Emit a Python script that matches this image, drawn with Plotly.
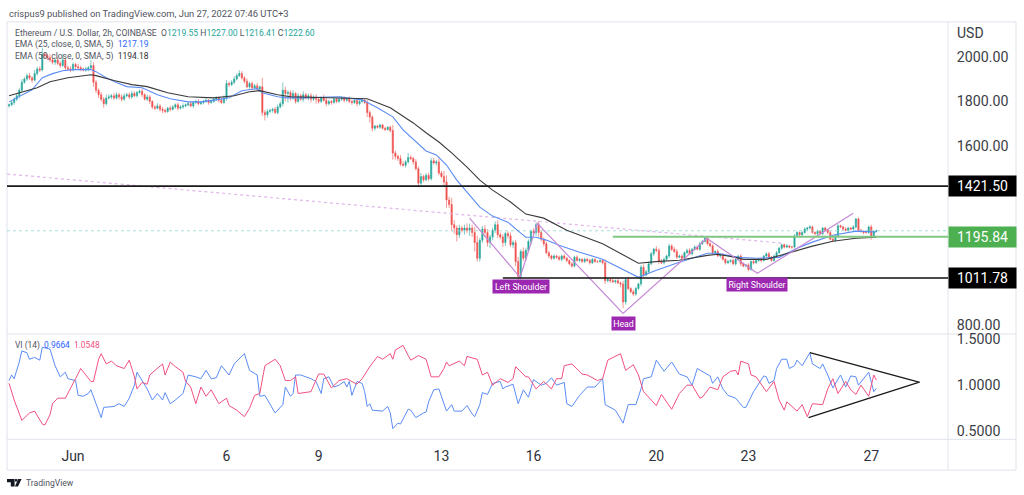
import pandas as pd
import plotly.graph_objects as go

W, H = 1024, 495
START = "2022-05-29 22:00"

first_open = 1780
closes = [
 1785,1795,1810,1825,1850,1885,1900,1915,1905,1895,
 1925,1945,1940,2010,2005,1995,1985,1975,1985,1970,
 1960,1985,1950,1945,1940,1965,1955,1950,1945,1940,
 1945,1950,1960,1885,1850,1830,1810,1790,1815,1820,
 1825,1815,1830,1820,1810,1825,1830,1820,1835,1825,
 1840,1845,1830,1810,1820,1800,1775,1770,1780,1765,
 1760,1755,1770,1765,1775,1785,1770,1775,1780,1785,
 1790,1780,1795,1800,1790,1795,1800,1805,1795,1800,
 1810,1815,1805,1795,1815,1880,1875,1885,1900,1915,
 1925,1905,1890,1865,1880,1860,1870,1855,1865,1750,
 1740,1755,1760,1765,1750,1775,1790,1850,1835,1840,
 1815,1835,1800,1825,1810,1830,1815,1825,1810,1820,
 1810,1800,1815,1805,1790,1800,1795,1810,1800,1810,
 1815,1805,1810,1800,1795,1805,1790,1800,1805,1795,
 1750,1730,1680,1690,1685,1695,1680,1675,1685,1670,
 1570,1555,1545,1520,1515,1530,1550,1545,1530,1500,
 1435,1465,1450,1470,1455,1535,1525,1530,1480,1465,
 1440,1360,1340,1250,1235,1205,1235,1225,1235,1225,
 1235,1215,1170,1100,1180,1230,1215,1170,1195,1225,
 1250,1205,1195,1170,1210,1200,1160,1170,1085,1020,
 1130,1100,1135,1175,1220,1215,1250,1215,1185,1165,
 1125,1110,1100,1110,1105,1095,1110,1100,1090,1075,
 1065,1105,1090,1095,1085,1095,1090,1080,1095,1085,
 1085,1090,1080,1000,1005,1000,995,1000,990,985,
 905,1005,965,950,940,965,985,1060,1025,1040,
 1075,1120,1140,1135,1085,1080,1095,1110,1155,1140,
 1130,1105,1110,1100,1125,1135,1120,1140,1150,1140,
 1165,1175,1190,1165,1155,1125,1130,1110,1115,1095,
 1080,1085,1090,1075,1095,1110,1075,1065,1070,1050,
 1085,1080,1090,1095,1090,1110,1120,1105,1090,1110,
 1125,1145,1160,1150,1155,1150,1150,1200,1215,1205,
 1215,1230,1235,1240,1215,1210,1220,1210,1235,1225,
 1215,1185,1180,1200,1245,1240,1230,1225,1235,1230,
 1240,1275,1225,1220,1215,1215,1240,1195,1219.55,1222.60,
]
upper_wick = [
 6,10,8,12,9,14,8,10,12,8,
 15,9,12,30,10,8,15,10,8,12,
 10,25,8,10,12,10,8,12,10,6,
 10,8,25,15,10,8,12,10,15,12,
 8,12,10,8,12,10,8,10,12,10,
 6,8,12,6,10,8,6,10,12,8,
 10,8,6,10,8,6,10,8,12,6,
 8,10,6,8,10,6,8,12,6,8,
 10,8,6,10,12,15,8,10,12,10,
 14,10,8,12,8,10,8,12,6,40,
 12,10,8,6,10,12,10,35,15,10,
 10,15,8,12,10,15,8,10,12,8,
 12,8,6,15,10,8,6,10,8,12,
 10,8,6,12,8,10,6,8,10,6,
 12,10,8,6,4,6,4,8,4,6,
 25,10,8,15,14,8,20,10,8,12,
 10,15,8,10,12,14,12,10,15,10,
 25,30,15,30,20,12,15,10,15,20,
 20,15,25,30,10,14,18,15,10,12,
 15,20,10,12,8,10,15,10,12,20,
 10,18,12,10,8,14,10,15,12,8,
 10,8,6,8,6,8,6,8,6,5,
 8,6,8,6,5,8,6,8,6,5,
 6,5,4,15,8,6,10,5,8,6,
 15,8,12,6,10,8,6,10,12,8,
 10,8,6,14,10,12,8,6,10,8,
 10,12,6,8,6,8,10,6,8,6,
 8,6,8,6,10,8,6,10,6,8,
 6,8,5,8,6,5,8,6,5,8,
 6,8,5,6,8,5,6,8,5,6,
 8,6,5,6,8,5,6,8,6,5,
 6,8,5,8,6,5,8,6,4,6,
 5,6,8,6,8,5,6,8,6,5,
 8,6,8,6,5,8,6,10,4.40,4.40,
]
lower_wick = [
 8,6,10,8,12,10,6,8,10,12,
 6,10,8,6,12,10,8,10,12,8,
 10,6,12,8,10,6,12,8,10,6,
 8,10,6,20,12,15,10,18,8,6,
 10,8,6,12,10,8,6,10,8,6,
 8,6,10,6,8,12,10,8,6,10,
 12,8,6,10,6,8,10,6,8,6,
 8,6,10,6,8,6,8,6,10,6,
 6,8,10,6,8,12,10,6,8,6,
 6,8,10,6,8,10,6,8,10,15,
 25,12,8,10,6,8,6,12,35,40,
 12,8,10,6,8,12,6,10,15,8,
 20,10,8,6,12,8,10,6,8,6,
 8,10,6,8,10,6,12,8,6,8,
 20,25,15,10,6,8,6,8,6,8,
 30,15,10,8,6,10,8,6,12,8,
 12,8,10,6,10,8,6,12,10,8,
 20,35,15,30,25,30,15,10,20,12,
 25,20,40,15,15,12,20,18,25,15,
 12,15,10,20,15,12,10,15,20,22,
 15,12,10,8,14,12,15,20,10,12,
 8,10,8,6,8,6,8,6,8,6,
 8,6,5,8,6,5,6,8,6,5,
 6,5,8,15,8,10,6,8,5,15,
 28,12,8,6,10,8,6,10,8,6,
 8,6,10,8,12,6,8,6,10,8,
 6,8,5,6,8,6,5,8,6,5,
 8,6,5,8,6,8,6,5,8,6,
 8,6,5,6,8,5,10,6,5,8,
 6,8,5,6,8,5,6,8,6,5,
 6,5,8,6,5,6,8,6,5,8,
 6,5,8,6,5,8,6,5,8,6,
 8,5,6,8,5,6,8,5,6,5,
 6,8,5,6,8,5,6,12,4.00,3.14,
]

ema_idx_fast = [0,9,13,17,21,25,32,34,38,42,46,52,58,63,70,75,81,86,91,97,99,105,109,114,129,138,144,150,154,159,163,167,171,175,180,184,189,195,200,202,206,210,215,223,232,239,246,253,262,273,277,285,292,301,308,314,322,331,339]
ema_fast = [1798,1852,1906,1924,1937,1942,1942,1933,1906,1884,1866,1861,1830,1812,1798,1798,1807,1816,1848,1857,1839,1821,1816,1816,1821,1807,1772,1731,1673,1619,1579,1561,1516,1449,1382,1328,1288,1261,1212,1194,1194,1181,1158,1127,1096,1055,1015,1046,1082,1122,1122,1104,1100,1104,1145,1172,1203,1221,1217.19]
ema_idx_slow = [0,4,11,16,23,32,34,41,48,54,62,70,80,88,94,98,105,110,127,140,149,158,163,168,173,179,184,189,196,202,209,218,232,239,246,254,262,273,277,284,287,296,306,314,322,331,339]
ema_slow = [1825,1839,1861,1888,1906,1919,1915,1893,1875,1866,1839,1821,1816,1825,1843,1848,1830,1821,1816,1812,1772,1704,1660,1619,1570,1507,1449,1404,1351,1297,1279,1225,1165,1122,1078,1086,1091,1113,1118,1104,1095,1095,1127,1154,1176,1189,1194.18]

vi_plus_idx = [0,1,2,4,5,7,8,10,12,13,16,18,20,22,23,26,27,29,31,32,34,36,37,41,43,45,47,49,50,52,54,56,58,60,61,63,65,68,70,73,75,77,79,81,83,86,88,92,94,97,98,100,102,104,107,108,110,111,112,114,118,120,122,123,125,127,
 129,131,132,133,134,136,138,139,140,141,142,146,148,149,150,152,153,156,157,159,162,163,164,166,168,170,171,173,174,177,179,181,182,184,185,187,189,192,193,194,197,199,201,203,205,208,210,212,214,217,218,220,223,226,229,232,233,237,240,242,245,247,248,251,253,256,259,262,
 265,267,269,274,275,277,279,281,284,287,288,291,295,296,297,299,300,302,304,305,307,308,310,313,314,317,318,320,322,325,327,329,331,332,336,338,339]
vi_plus = [1.05,1.11,1.07,1.25,1.37,1.35,1.28,1.30,1.27,1.41,1.39,1.21,1.09,1.14,1.07,1.05,0.89,0.88,0.91,0.95,0.80,0.65,0.76,0.77,0.80,0.77,0.86,1.00,1.14,1.05,0.96,0.84,0.91,0.84,0.92,0.80,0.84,0.91,1.11,1.09,1.07,1.16,1.07,1.08,1.21,1.11,1.23,1.34,1.16,1.11,0.88,0.89,0.79,0.70,0.79,0.98,0.88,0.91,1.11,1.11,1.07,1.04,0.91,1.07,1.09,0.98,
 1.00,1.04,0.98,1.04,0.89,1.04,1.02,0.93,0.77,0.80,0.73,0.72,0.77,0.70,0.53,0.59,0.58,0.74,0.73,0.65,0.70,0.71,0.82,0.95,0.96,0.79,0.72,0.79,0.72,0.72,0.78,0.69,0.66,0.79,0.92,0.90,1.02,1.04,0.96,0.98,1.01,0.80,0.95,0.87,1.06,1.00,1.02,1.08,1.00,1.03,0.80,0.77,0.89,0.98,0.98,1.07,0.79,0.73,0.59,0.79,0.79,0.96,1.07,1.09,1.27,1.15,1.25,1.12,
 1.09,1.00,1.18,1.10,1.02,1.09,0.96,0.89,0.86,0.76,0.76,0.93,1.10,1.09,1.02,1.05,1.18,1.28,1.28,1.18,1.21,1.27,1.21,1.35,1.23,1.18,1.23,1.11,0.97,1.11,0.98,1.10,1.09,1.00,1.14,0.93,0.9664]

vi_minus_idx = [0,2,5,8,10,13,14,16,17,19,22,24,26,28,32,33,35,36,38,40,42,45,47,49,50,52,54,55,60,61,63,65,68,69,71,73,75,77,79,82,85,86,89,92,94,96,98,100,104,106,108,110,112,113,118,121,123,126,
 129,132,136,138,141,144,146,149,150,151,154,156,157,160,163,165,168,170,171,172,176,178,179,183,185,187,189,192,195,197,198,202,203,206,209,212,214,216,217,220,224,226,230,232,234,239,241,244,246,248,253,255,259,262,
 265,267,270,271,274,277,279,282,284,285,286,289,290,292,296,299,301,303,304,308,310,312,314,318,320,322,324,327,329,331,333,336,338,339]
vi_minus = [1.02,0.84,0.62,0.70,0.72,0.58,0.57,0.68,0.80,0.86,0.86,0.96,1.07,1.18,1.04,1.04,1.28,1.34,1.23,1.26,1.21,1.18,1.27,1.09,0.96,1.03,1.01,1.11,1.23,1.11,1.25,1.20,1.14,1.04,0.98,0.80,0.98,0.88,0.95,0.80,0.86,0.78,0.73,0.66,0.75,0.89,0.91,1.21,1.28,1.21,1.05,1.05,1.09,0.91,0.93,1.12,1.12,0.97,
 1.05,1.07,1.01,1.07,1.20,1.31,1.28,1.34,1.28,1.38,1.43,1.32,1.27,1.32,1.28,1.09,1.09,1.18,1.25,1.21,1.26,1.21,1.31,1.28,1.11,1.14,1.00,1.07,1.03,1.07,1.20,1.09,1.09,0.96,1.04,0.96,1.07,1.07,1.21,1.23,1.12,1.11,1.05,1.07,1.27,1.34,1.16,1.22,1.11,0.93,0.78,0.90,0.74,0.91,
 1.00,1.00,0.86,0.87,0.98,0.95,1.09,1.15,1.16,1.11,1.26,1.23,1.11,1.09,0.93,1.04,0.84,0.73,0.82,0.72,0.79,0.66,0.80,0.79,0.96,1.07,0.91,1.04,0.95,0.90,1.00,0.88,1.11,1.0548]

pattern_dates = ["2022-06-13 22:00","2022-06-15 13:30","2022-06-16 03:00","2022-06-18 22:00","2022-06-21 15:30","2022-06-23 07:00","2022-06-26 10:00"]
pattern_prices = [1279,1015,1256,854,1189,1033,1301]
trend_dates = ["2022-05-29 20:30","2022-06-24 03:00"]
trend_prices = [1476,1167]
tri_up_dates = ["2022-06-25 00:00","2022-06-28 14:00"]
tri_up_vals = [1.351,1.03]
tri_lo_dates = ["2022-06-24 23:00","2022-06-28 13:00"]
tri_lo_vals = [0.649,1.03]

level_top = 1421.50
level_neck = 1195.84
level_base = 1011.78
last_close = 1222.60
tick_dates = ["2022-06-01","2022-06-06","2022-06-09","2022-06-13","2022-06-16","2022-06-20","2022-06-23","2022-06-27"]
tick_labels = ["Jun","6","9","13","16","20","23","27"]
price_ticks = [800,1600,1800,2000]
price_labels = ["800.00","1600.00","1800.00","2000.00"]
vi_ticks = [0.5,1.0,1.5]
vi_labels = ["0.5000","1.0000","1.5000"]

FONT = "Roboto"
TEAL = "#26a69a"
RED = "#ef5350"
BLUE = "#5b8cf5"
PINK = "#f0507f"
PURPLE = "#9c27b0"
LAVENDER = "#c488d6"

times = pd.date_range(START, periods=len(closes), freq="2h")
opens = [first_open] + closes[:-1]
highs = [max(o, c) + u for o, c, u in zip(opens, closes, upper_wick)]
lows = [min(o, c) - l for o, c, l in zip(opens, closes, lower_wick)]
AX0 = "2022-05-29 20:24"
AX1 = "2022-06-29 12:00"

def px(x):
    return x / W

def py(y):
    return 1 - y / H

fig = go.Figure()
fig.add_trace(go.Candlestick(
    x=times, open=opens, high=highs, low=lows, close=closes,
    increasing=dict(line=dict(color=TEAL, width=0.6), fillcolor=TEAL),
    decreasing=dict(line=dict(color=RED, width=0.6), fillcolor=RED),
    whiskerwidth=0, showlegend=False, hoverinfo="skip", xaxis="x", yaxis="y"))

def line(x, y, color, width, dash="solid", xa="x", ya="y"):
    fig.add_trace(go.Scatter(x=x, y=y, mode="lines", showlegend=False, hoverinfo="skip",
                             line=dict(color=color, width=width, dash=dash), xaxis=xa, yaxis=ya))

line([AX0, AX1], [last_close, last_close], "#8fd6cf", 0.8, "dot")
line(trend_dates, trend_prices, "#e0b5ea", 1.2, "dot")
line(times[ema_idx_fast], ema_fast, BLUE, 1.1)
line(times[ema_idx_slow], ema_slow, "#3a3a3a", 1.1)
line(pattern_dates, pattern_prices, LAVENDER, 1.2)
line([AX0, AX1], [level_top, level_top], "#1a1a1a", 1.8)
line(["2022-06-15 00:00", AX1], [level_base, level_base], "#111111", 1.5)
line(["2022-06-18 14:00", AX1], [level_neck, level_neck], "#81c784", 2)

line(times[vi_plus_idx], vi_plus, BLUE, 1, xa="x2", ya="y2")
line(times[vi_minus_idx], vi_minus, PINK, 1, xa="x2", ya="y2")
line(tri_up_dates, tri_up_vals, "#1a1a1a", 1.3, xa="x2", ya="y2")
line(tri_lo_dates, tri_lo_vals, "#1a1a1a", 1.3, xa="x2", ya="y2")

shapes = []
BORDER = "#e0e3eb"
for x0, y0, x1, y1 in [(7,19,1016,19),(7,470,1016,470),(7,19,7,470),(1016,19,1016,470),
                       (948,19,948,470),(7,333,1016,333),(7,439,1016,439)]:
    shapes.append(dict(type="line", xref="paper", yref="paper", x0=px(x0), y0=py(y0), x1=px(x1), y1=py(y1),
                       line=dict(color=BORDER, width=1), layer="below"))

def poly(points):
    d = "M " + " L ".join(f"{px(a):.5f},{py(b):.5f}" for a, b in points) + " Z"
    return dict(type="path", xref="paper", yref="paper", path=d, fillcolor="#131722", line=dict(width=0))
shapes += [poly([(7,479),(14.6,479),(14.6,486.4),(10.8,486.4),(10.8,482.2),(7,482.2)]),
           poly([(18.2,479),(21.6,479),(18,486.4),(14.9,486.4)]),
           poly([(15,479),(17.4,479),(17.4,481.4),(15,481.4)])]

anns = []
def text(x, y, t, size=10, color="#50535e", **kw):
    anns.append(dict(xref="paper", yref="paper", x=px(x), y=py(y), text=t, showarrow=False,
                     xanchor=kw.pop("xanchor", "left"), yanchor="middle",
                     font=dict(family=FONT, size=size, color=color), **kw))

def span(t, c):
    return f'<span style="color:{c}">{t}</span>'

text(7, 11, "crispus9 published on TradingView.com, Jun 27, 2022 07:46 UTC+3", 9.4)
text(13, 30, "Ethereum / U.S. Dollar, 2h, COINBASE  O" + span("1219.55", TEAL) + " H" + span("1227.00", TEAL)
     + " L" + span("1216.41", TEAL) + " C" + span("1222.60", TEAL), 8.6)
text(13, 42, "EMA (25, close, 0, SMA, 5)  " + span("1217.19", "#2962ff"), 8.5)
text(13, 54, "EMA (50, close, 0, SMA, 5)  " + span("1194.18", "#333333"), 8.5)
text(13, 345, "VI (14)  " + span("0.9664", "#2962ff") + "  " + span("1.0548", "#f0507f"), 8.4)
text(955, 30, "USD", 14, "#3a3d45")
text(24, 483, "TradingView", 8.6)

for price, bg in [(level_top, "#000000"), (level_neck, "#4caf50"), (level_base, "#000000")]:
    anns.append(dict(xref="paper", yref="y", x=px(948), y=price, text=f"{price:.2f}", showarrow=False,
                     xanchor="left", yanchor="middle", width=67, height=20, bgcolor=bg, align="center",
                     borderpad=0, font=dict(family=FONT, size=14, color="#ffffff")))

for date, price, t, w in [("2022-06-15 14:00", 972, "Left Shoulder", 56),
                          ("2022-06-18 22:00", 809, "Head", 23),
                          ("2022-06-23 07:00", 983, "Right Shoulder", 60)]:
    anns.append(dict(xref="x", yref="y", x=date, y=price, text=t, showarrow=False, width=w, height=13,
                     bgcolor=PURPLE, align="center", borderpad=0, xanchor="center", yanchor="middle",
                     font=dict(family=FONT, size=8.8, color="#ffffff")))

fig.update_layout(
    width=W, height=H, margin=dict(l=0, r=0, t=0, b=0),
    paper_bgcolor="#ffffff", plot_bgcolor="#ffffff",
    font=dict(family=FONT, color="#3a3d45"), showlegend=False,
    shapes=shapes, annotations=anns,
    xaxis=dict(domain=[px(7), px(948)], range=[AX0, AX1], anchor="y", showticklabels=False,
               showgrid=False, zeroline=False, rangeslider=dict(visible=False), matches="x2"),
    xaxis2=dict(domain=[px(7), px(948)], range=[AX0, AX1], anchor="y2", tickmode="array",
                tickvals=tick_dates, ticktext=tick_labels, showgrid=False, zeroline=False,
                ticks="outside", ticklen=4, tickcolor="#ffffff",
                tickfont=dict(family=FONT, size=14, color="#2f323a")),
    yaxis=dict(domain=[py(333), py(19)], range=[762, 2155], side="right", anchor="x", tickmode="array",
               tickvals=price_ticks, ticktext=price_labels, showgrid=False, zeroline=False,
               ticks="outside", ticklen=5, tickcolor="#ffffff",
               tickfont=dict(family=FONT, size=14.2, color="#3a3d45")),
    yaxis2=dict(domain=[py(439), py(333)], range=[0.415, 1.553], side="right", anchor="x2", tickmode="array",
                tickvals=vi_ticks, ticktext=vi_labels, showgrid=False, zeroline=False,
                ticks="outside", ticklen=5, tickcolor="#ffffff",
                tickfont=dict(family=FONT, size=14.2, color="#3a3d45")),
)

fig.write_html("out.html", config=dict(displayModeBar=False),
               post_script="document.body.style.margin='0';document.documentElement.style.overflow='hidden';")
